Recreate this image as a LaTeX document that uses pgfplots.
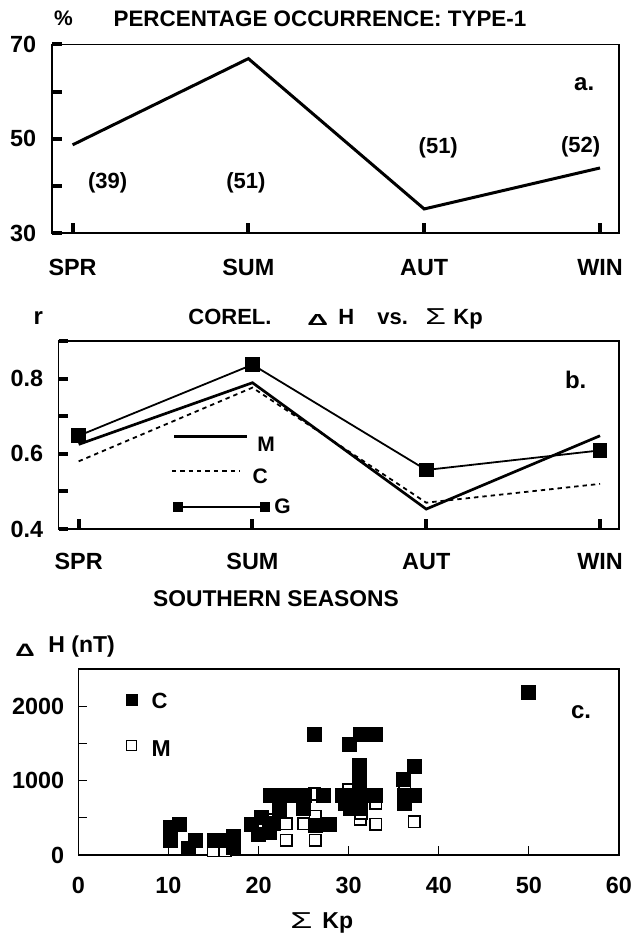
\documentclass[border=0pt]{standalone}
\usepackage{fontspec}
\setmainfont{Liberation Sans}
\usepackage{graphicx}
\usepackage{pgfplots}
\pgfplotsset{compat=1.18}
\newcommand{\fs}[1]{\fontsize{#1}{#1}\selectfont}
\begin{document}
\begin{tikzpicture}[x=1pt,y=1pt]
\useasboundingbox (0pt,0pt) rectangle (316pt,471.5pt);
\pgfplotsset{
  every axis/.append style={
    scale only axis, anchor=south west, tick pos=left, tick align=inside,
    axis line style={line width=0.65pt},
    /pgf/number format/assume math mode=true,
    ticklabel style={font=\bfseries\fs{11.7}},
    clip=false,
  },
  thickticks/.style={major tick style={line width=2pt,black}, major tick length=4.8pt},
}
% ---------------- panel a ----------------
\begin{axis}[thickticks, at={(26pt,355pt)}, width=283.5pt, height=94.25pt,
  xmin=-0.117, xmax=3.108, ymin=30, ymax=70,
  xtick={0,1,2,3}, xticklabels={SPR,SUM,AUT,WIN},
  ytick={30,40,50,60,70}, yticklabels={30,,50,,70},
  xticklabel style={yshift=-9.6pt}, yticklabel style={xshift=-4.4pt}]
\addplot[line width=1.5pt, black] coordinates {(0,48.7)(1,67.0)(2,35.1)(3,43.8)};
\node[font=\bfseries\fs{11}] at (axis cs:0.2,40.6) {(39)};
\node[font=\bfseries\fs{11}] at (axis cs:0.986,40.6) {(51)};
\node[font=\bfseries\fs{11}] at (axis cs:2.08,48.1) {(51)};
\node[font=\bfseries\fs{11}] at (axis cs:2.89,48.3) {(52)};
\node[font=\bfseries\fs{12}] at (axis cs:2.91,61.6) {a.};
\end{axis}
% ---------------- panel b ----------------
\begin{axis}[thickticks, at={(29.25pt,207pt)}, width=280.25pt, height=94pt,
  xmin=-0.116, xmax=3.109, ymin=0.4, ymax=0.9,
  xtick={0,1,2,3}, xticklabels={SPR,SUM,AUT,WIN},
  ytick={0.4,0.5,0.6,0.7,0.8,0.9}, yticklabels={0.4,,0.6,,0.8,},
  xticklabel style={yshift=-8.6pt}, yticklabel style={xshift=-4.1pt}]
\addplot[line width=0.9pt, black, dash pattern=on 2.2pt off 2pt] coordinates {(0,0.58)(1,0.776)(2,0.47)(3,0.52)};
\addplot[line width=1.35pt, black] coordinates {(0,0.625)(1,0.789)(2,0.453)(3,0.648)};
\addplot[line width=0.9pt, black, mark=square*, mark size=3.25pt] coordinates {(0,0.648)(1,0.837)(2,0.557)(3,0.609)};
% legend
\addplot[line width=1.3pt, black] coordinates {(0.549,0.646)(0.969,0.646)};
\addplot[line width=0.9pt, black, dash pattern=on 2.2pt off 2pt] coordinates {(0.536,0.555)(0.923,0.555)};
\addplot[line width=0.9pt, black, mark=square*, mark size=2pt] coordinates {(0.572,0.458)(1.072,0.458)};
\node[font=\bfseries\fs{10.5}, anchor=west, inner sep=0pt] at (axis cs:1.026,0.624) {M};
\node[font=\bfseries\fs{10.5}, anchor=west, inner sep=0pt] at (axis cs:0.998,0.541) {C};
\node[font=\bfseries\fs{10.5}, anchor=west, inner sep=0pt] at (axis cs:1.124,0.461) {G};
\node[font=\bfseries\fs{12}] at (axis cs:2.86,0.797) {b.};
\end{axis}
% ---------------- panel c ----------------
\begin{axis}[at={(39.15pt,44pt)}, width=270.35pt, height=93pt,
  xmin=0, xmax=60, ymin=0, ymax=2500,
  xtick={0,10,20,30,40,50,60},
  ytick={0,500,1000,1500,2000,2500}, yticklabels={0,,1000,,2000,},
  major tick style={line width=0.6pt, black}, major tick length=4.5pt,
  xticklabel style={yshift=-7.6pt}, yticklabel style={xshift=-3.5pt}]
% M (open squares)
\addplot[only marks, mark=square*, mark size=2.9pt, mark options={fill=white, draw=black, line width=0.8pt}] coordinates {
(15.0,60)(16.3,60)(21.5,470)(22.3,450)(23.1,420)(23.1,200)(25.0,420)(26.3,200)(26.3,520)
(26.2,820)(30.0,880)(31.3,480)(31.4,560)(33.0,410)(33.0,700)(36.2,870)(37.3,450)};
% C (filled squares)
\addplot[only marks, mark=square*, mark size=3.5pt, mark options={fill=black, draw=black}] coordinates {
(10.2,370)(10.2,190)(11.2,410)(12.2,94)(13.0,190)(15.1,200)(16.3,200)(17.2,250)(17.2,100)
(19.2,410)(20.0,280)(20.3,500)(21.2,300)(22.3,600)(21.6,420)
(21.3,800)(22.6,800)(23.9,800)(25.1,800)(27.2,800)(29.3,800)(30.5,800)(31.5,800)(33.0,800)
(25.0,620)(26.3,400)(27.9,410)(30.2,620)(31.3,620)(29.6,700)
(31.2,1200)(31.2,1000)(30.1,1480)(31.3,1620)(33.0,1620)(26.2,1620)
(36.1,1010)(37.3,1190)(36.2,800)(37.3,800)(36.2,690)
(50.0,2190)};
% legend
\addplot[only marks, mark=square*, mark size=2.75pt, mark options={fill=black}] coordinates {(5.9,2080)};
\addplot[only marks, mark=square*, mark size=2.5pt, mark options={fill=white, draw=black, line width=0.8pt}] coordinates {(5.9,1470)};
\node[font=\bfseries\fs{11}, anchor=west, inner sep=0pt] at (axis cs:8.1,2067) {C};
\node[font=\bfseries\fs{11.5}, anchor=west, inner sep=0pt] at (axis cs:8.1,1430) {M};
\node[font=\bfseries\fs{12}] at (axis cs:55.8,1920) {c.};
\end{axis}
% ---------------- titles and labels ----------------
\node[font=\bfseries\fs{10.5}] at (31.75pt,462.25pt) {\%};
\node[font=\bfseries\fs{11.2}] at (160pt,462.25pt) {PERCENTAGE OCCURRENCE: TYPE-1};
\node[font=\bfseries\fs{12}, anchor=base, inner sep=0pt] at (19.2pt,309pt) {r};
\node[font=\bfseries\fs{11}, anchor=base west, inner sep=0pt] at (94pt,309pt) {COREL.};
\node[font=\bfseries\fs{8}, anchor=base west, inner sep=0pt] at (153.5pt,308.5pt) {\scalebox{1.8}[1]{Δ}};
\node[font=\bfseries\fs{11}, anchor=base west, inner sep=0pt] at (169pt,309pt) {H};
\node[font=\bfseries\fs{11}, anchor=base west, inner sep=0pt] at (188.5pt,309pt) {vs.};
\node[font=\fs{11.5}, anchor=base west, inner sep=0pt] at (212.5pt,309pt) {\scalebox{1.45}[1]{Σ}};
\node[font=\bfseries\fs{11}, anchor=base west, inner sep=0pt] at (226.5pt,309pt) {Kp};
\node[font=\bfseries\fs{11.4}] at (138pt,172pt) {SOUTHERN SEASONS};
\node[font=\bfseries\fs{9}, anchor=base west, inner sep=0pt] at (7.5pt,143pt) {\scalebox{1.5}[1]{Δ}};
\node[font=\bfseries\fs{11.5}, anchor=base west, inner sep=0pt] at (24pt,145pt) {H (nT)};
\node[font=\fs{11.5}, anchor=base west, inner sep=0pt] at (145pt,7.5pt) {\scalebox{1.55}[1]{Σ}};
\node[font=\bfseries\fs{11.5}, anchor=base west, inner sep=0pt] at (161pt,7.5pt) {Kp};
\end{tikzpicture}
\end{document}
